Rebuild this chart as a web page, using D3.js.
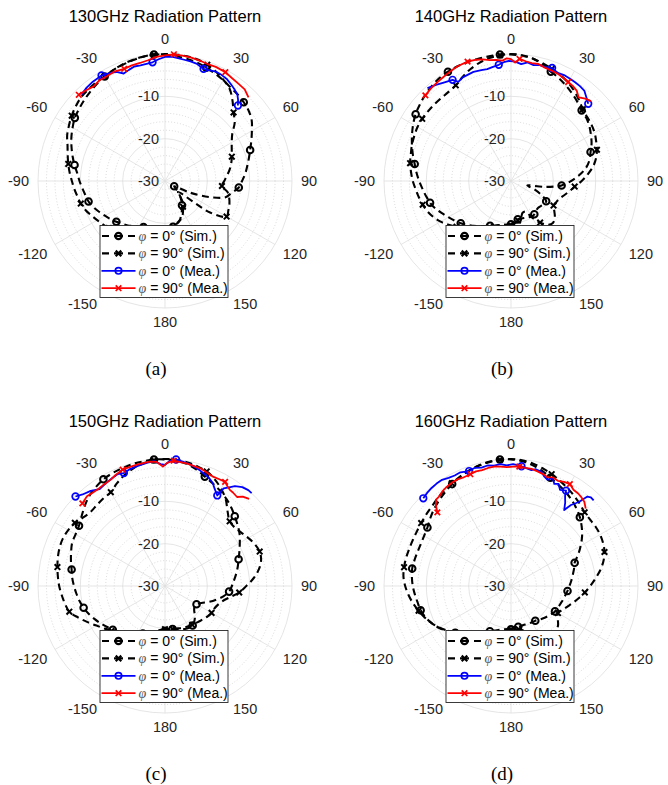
<!DOCTYPE html>
<html><head><meta charset="utf-8">
<script src="https://cdn.jsdelivr.net/npm/d3@7"></script>
<style>body{margin:0;background:#fff}</style>
</head><body>
<svg id="chart" width="668" height="785"></svg>
<script>
// ---------- shared categories / ticks ----------
const simAngles = d3.range(-180, 181, 5);            // sampling grid of the simulated patterns (deg)
const simMarkerAngles = [-180,-155,-130,-105,-80,-55,-30,-5,20,45,70,95,120,145,170];
const rMajorTicks = [-20, -10, 0];
const rTickLabels = [-30, -20, -10];
const thetaTicks = [0, 30, 60, 90, 120, 150, 180, -150, -120, -90, -60, -30];
const legendLabels = ["0° (Sim.)", "90° (Sim.)", "0° (Mea.)", "90° (Mea.)"];
const titles = ["130GHz Radiation Pattern", "140GHz Radiation Pattern", "150GHz Radiation Pattern", "160GHz Radiation Pattern"];
const captions = ["(a)", "(b)", "(c)", "(d)"];

// ---------- 130 GHz ----------
const sim0_130 = [-18,-18.3,-18.5,-18.5,-18.3,-18,-17.5,-17,-16.3,-15.7,
 -15,-14.3,-13.6,-12.8,-12,-11.3,-10.9,-10.4,-9.8,-9.2,
 -8.3,-7.4,-6.5,-5.6,-4.8,-4,-3.5,-3,-2.5,-2,
 -1.5,-1.1,-0.8,-0.5,-0.2,0,-0.2,-0.4,-0.7,-1,
 -1.5,-2,-2.5,-3,-3.3,-3.7,-4.2,-5,-6.3,-7.5,
 -8.6,-9.5,-10.3,-11,-11.8,-12.5,-14,-15.2,-19,-23.5,
 -27.5,-27,-26,-25,-24,-23,-22,-21,-20,-19.5,
 -19,-18.5,-18];
const sim90_130 = [-18.5,-18.5,-18.5,-18.5,-18,-17.5,-16.5,-15.5,-14.5,-13.5,
 -12.7,-12.1,-11.5,-10.8,-10,-9.4,-9,-8.5,-8,-7.4,
 -6.8,-6.2,-5.5,-4.5,-3.8,-3.1,-2.5,-2,-1.8,-1.6,
 -1.5,-1.1,-0.7,-0.4,-0.2,-0.1,0,0,-0.1,-0.3,
 -0.8,-1.5,-2.4,-3.4,-5.2,-7.1,-8.5,-10.6,-11.8,-12.6,
 -13.2,-13.8,-14.5,-15.3,-16,-16.5,-15,-14.3,-13.8,-13.5,
 -13.2,-17,-26,-25,-23.5,-22.6,-21.5,-20.5,-20,-19.5,
 -19,-18.7,-18.5];
const mea0Ang_130 = [-44,-40,-36,-31,-27,-24,-21,-18,-15,-12,-9,-6,-3,0,3,6,9,12,15,19,22,25,28,31,34,37,40,42,44];
const mea0Val_130 = [-1.6,-1.2,-1.0,-0.9,-1.4,-1.8,-2.8,-2.4,-2.0,-2.1,-2.0,-1.8,-1.2,-0.7,-0.6,-0.8,-1.0,-1.1,-1.3,-2.0,-1.8,-1.5,-1.6,-1.8,-2.3,-2.8,-3.4,-4.2,-5.2];
const mea0Mk_130 = [-31,-6,19,44];
const mea90Ang_130 = [-45,-41,-37,-33,-29,-25,-20,-16,-12,-8,-4,0,4,8,12,16,20,24,29,33,37,41,45];
const mea90Val_130 = [-1.2,-1.6,-2.0,-1.6,-1.7,-1.5,-1.8,-1.6,-1.5,-1.2,-0.6,-0.3,0,-0.1,-0.2,-0.4,-0.6,-0.5,-0.6,-1.0,-1.2,-1.3,-2.1];
const mea90Mk_130 = [-45,-20,4,29];

// ---------- 140 GHz ----------
const sim0_140 = [-19.8,-19.7,-19.5,-19.2,-18.8,-18.3,-17.7,-17,-16.2,-15.3,
 -14.5,-13.7,-12.9,-12,-11,-10.2,-9.6,-9,-8.3,-7.6,
 -6.9,-6,-5.1,-4.2,-3.3,-2.5,-1.9,-1.3,-0.8,-0.4,
 -0.2,-0.1,-0.1,-0.1,-0.1,0,-0.1,-0.3,-0.6,-1.5,
 -2.5,-3.2,-4,-4.8,-5.6,-6.4,-6.8,-7.4,-8.2,-9,
 -10,-10.8,-12,-13.8,-15.8,-18,-22,-26,-24,-22,
 -20.4,-20.5,-20.8,-21,-20.8,-20.4,-20.3,-20.5,-20.7,-20.8,
 -20.8,-20.5,-19.8];
const sim90_140 = [-19.5,-19.5,-19.5,-19.2,-18.7,-18,-17.3,-16.5,-15.5,-14.5,
 -13.2,-12,-10.8,-9.8,-9,-8.4,-7.9,-7.4,-6.8,-6.3,
 -5.8,-5.5,-5.1,-4.8,-4.5,-4.4,-4.4,-4.4,-4.4,-4.3,
 -3.9,-2.9,-1.9,-1.1,-0.5,-0.2,0,-0.2,-0.6,-1.2,
 -1.8,-2.4,-3.1,-4,-5,-6,-6.5,-6.8,-7.2,-7.8,
 -8.4,-9.2,-10.3,-11.8,-13.3,-14.9,-16,-17,-17.8,-18.2,
 -18.4,-17.5,-16.5,-16,-16.5,-18,-20,-22,-22,-21,
 -20.5,-20,-19.5];
const mea0Ang_140 = [-42,-38,-34,-30,-28,-25,-22,-19,-15,-12,-9,-6,-3,-1,2,5,8,11,14,17,20,23,27,30,33,36,39,42,45];
const mea0Val_140 = [-0.5,-1.2,-1.9,-2.4,-3.5,-3.0,-2.9,-2.75,-2.9,-3.0,-2.7,-2.4,-1.8,-1.6,-1.8,-2.3,-1.7,-2.1,-1.8,-1.9,-1.6,-2.2,-2.0,-2.1,-2.2,-2.3,-2.5,-3.4,-4.2];
const mea0Mk_140 = [-30,-6,20,45];
const mea90Ang_140 = [-45,-41,-37,-33,-29,-25,-20,-16,-13,-10,-7,-4,-2,0,2,4,7,10,13,16,20,24,27,30,33,36,39,42,45];
const mea90Val_140 = [-1.4,-1.1,-0.9,-0.7,-0.4,-0.1,0,-0.2,-0.5,-1.0,-1.2,-1.5,-1.0,-1.2,-2.0,-1.1,-1.5,-1.7,-1.6,-2.0,-2.2,-2.4,-2.7,-3.0,-3.2,-3.6,-4.6,-3.8,-3.3];
const mea90Mk_140 = [-45,-20,4,30];

// ---------- 150 GHz ----------
const sim0_150 = [-19.4,-19.3,-19,-18.7,-18.2,-17.6,-17,-16.3,-15.5,-14.7,
 -13.9,-13.2,-12.4,-11.6,-10.8,-10.1,-9.5,-9,-8.5,-8,
 -7.6,-7,-6.4,-5.8,-5.6,-5.2,-4.3,-3.2,-2.2,-1.5,
 -0.9,-0.6,-0.4,-0.2,-0.1,0,-0.1,-0.3,-0.7,-1.5,
 -2.5,-3.3,-4,-4.8,-5.7,-6.7,-7.6,-8.5,-9.6,-10.6,
 -11.5,-12.2,-12.9,-13.6,-14.2,-14.8,-16,-17.5,-19,-20.5,
 -21.4,-21.5,-21,-20,-19.2,-18.6,-18.6,-18.8,-19.2,-19.5,
 -19.7,-19.6,-19.4];
const sim90_150 = [-19.8,-19.6,-19.2,-18.6,-17.8,-16.8,-15.8,-15,-14.3,-13.8,
 -13.5,-12.5,-11.3,-9.8,-8.2,-6.6,-6,-5.5,-5,-4.6,
 -4.2,-3.8,-3.5,-3.4,-3.6,-4,-4.8,-5.2,-5,-4.7,
 -4.4,-3.2,-2.1,-1.2,-0.6,-0.2,0,-0.1,-0.3,-0.7,
 -1.2,-2.2,-3.5,-5,-7,-8.4,-8.5,-8,-7.3,-6.6,
 -6.2,-6.5,-7.5,-9,-10.8,-12.4,-14.5,-16,-16.8,-17.2,
 -17.3,-17.6,-18,-18.3,-18.6,-18.8,-19,-19.2,-19.4,-19.6,
 -19.7,-19.8,-19.8];
const mea0Ang_150 = [-45,-42,-38,-34,-30,-26,-23,-20,-17,-14,-11,-8,-5,-2,0,2,5,8,11,14,17,19,22,25,27,30,31,33,35,38,41,43];
const mea0Val_150 = [-0.1,-0.9,-1.5,-2.4,-2.0,-1.6,-1.3,-1.6,-1.2,-1.0,-0.8,-0.6,-0.4,-1.2,-1.4,-0.5,0,-0.3,-0.6,-1.0,-1.5,-1.9,-2.4,-3.2,-4.2,-5.3,-3.1,-2.2,-1.2,-0.35,0,0];
const mea0Mk_150 = [-45,-20,5,30];
const mea90Ang_150 = [-45,-41,-38,-35,-31,-27,-24,-20,-17,-13,-10,-7,-4,-1,1,4,7,10,13,17,20,24,27,30,32,34,36,39,41,44];
const mea90Val_150 = [-2.4,-1.9,-2.1,-2.2,-2.0,-1.8,-1.3,-0.75,-0.7,-0.6,-0.5,-0.4,-0.6,-1.8,-0.9,-0.33,-0.5,-0.6,-0.8,-1.0,-1.4,-1.8,-1.7,-1.6,-2.2,-2.6,-2.7,-2.95,-2.0,-1.4];
const mea90Mk_150 = [-45,-20,4,30];

// ---------- 160 GHz ----------
const sim0_160 = [-19.8,-19.8,-19.6,-19.3,-18.8,-18.2,-17.3,-16.3,-15.2,-14,
 -12.8,-11.5,-10.3,-9.3,-8.5,-7.9,-7.6,-7.2,-6.8,-6.5,
 -6.3,-6.4,-6.5,-6.5,-6.3,-5.9,-5.1,-4.3,-3.6,-2.9,
 -2.2,-1.6,-1,-0.5,-0.2,0,-0.1,-0.4,-1,-1.8,
 -2.8,-3.6,-4.3,-5.1,-6,-7,-8.2,-9.5,-11,-12.5,
 -14,-14.6,-15.2,-15.7,-16.2,-16.6,-17,-17.3,-17.6,-17.8,
 -18,-18.4,-18.8,-19.2,-19.6,-20,-20.1,-20.2,-20.3,-20.3,
 -20.2,-20,-19.8];
const sim90_160 = [-19.8,-19.5,-19,-18.3,-17.5,-16.5,-15.5,-14.5,-13.8,-13.3,
 -12.8,-11.6,-10.4,-9.3,-8.3,-7.4,-6.5,-5.7,-5,-4.5,
 -4.35,-4.35,-4.4,-4.4,-4.3,-4.1,-3.8,-3.5,-3,-2.5,
 -2,-1.5,-1,-0.6,-0.3,-0.1,0,-0.2,-0.6,-1.2,
 -1.9,-2.6,-3.3,-4,-4.7,-5.4,-5.6,-5.6,-5.7,-6,
 -6.5,-7.4,-8.6,-10,-11.3,-12.5,-13.7,-14.8,-15.8,-16.6,
 -17.2,-16.5,-15.5,-15,-15,-15.5,-16.5,-17.5,-18.5,-19.2,
 -19.6,-19.8,-19.8];
const mea0Ang_160 = [-45,-42,-39,-36,-33,-30,-27,-24,-20,-17,-14,-11,-8,-5,-2,1,3,5,8,10,12,15,17,19,21,23,25,27,30,31,33,35,36.5,38,39,40.5,42,44];
const mea0Val_160 = [-0.7,-0.4,-0.2,-0.1,-0.1,-0.5,-0.7,-0.6,-1.1,-0.8,-1.2,-1.0,-1.3,-1.1,-1.5,-1.2,-1.4,-1.6,-2.0,-2.2,-1.8,-2.1,-3.0,-3.5,-2.6,-3.8,-3.4,-4.5,-4.0,-5.2,-6.5,-8.1,-6.2,-5.2,-4.4,-2.2,-1.8,-1.9];
const mea0Mk_160 = [-45,-20,5,30];
const mea90Ang_160 = [-45,-43,-41,-39,-36,-33,-30,-27,-24,-20,-17,-14,-11,-8,-5,-2,1,4,7,10,13,16,18.5,21,24,27,30,33,36,38,41,44];
const mea90Val_160 = [-5.4,-4.0,-3.0,-2.9,-2.4,-2.1,-1.9,-1.8,-2.0,-1.9,-1.7,-1.8,-1.6,-1.5,-1.7,-1.9,-1.8,-1.7,-1.9,-1.9,-2.2,-2.5,-2.9,-2.5,-2.8,-2.4,-2.2,-2.9,-3.0,-3.2,-3.6,-4.6];
const mea90Mk_160 = [-45,-20,4,30];

// ---------- drawing ----------
const FONT = "'Liberation Sans', Arial, Helvetica, sans-serif";
const SERIF = "'Liberation Serif', 'Times New Roman', Times, serif";
const TXT = "#262626";
const R = 127;
const rScale = d3.scaleLinear().domain([-30, 0]).range([0, R]).clamp(true);
const aScale = d3.scaleLinear().domain([-180, 180]).range([-Math.PI, Math.PI]);
const pt = (t, v) => d3.pointRadial(aScale(t), rScale(v));

const panels = [
  {cx:165, cy:181, capX:156, capY:368, sim0:sim0_130, sim90:sim90_130, m0a:mea0Ang_130, m0v:mea0Val_130, m0k:mea0Mk_130, m9a:mea90Ang_130, m9v:mea90Val_130, m9k:mea90Mk_130},
  {cx:511, cy:181, capX:502, capY:368, sim0:sim0_140, sim90:sim90_140, m0a:mea0Ang_140, m0v:mea0Val_140, m0k:mea0Mk_140, m9a:mea90Ang_140, m9v:mea90Val_140, m9k:mea90Mk_140},
  {cx:165, cy:586, capX:156, capY:773, sim0:sim0_150, sim90:sim90_150, m0a:mea0Ang_150, m0v:mea0Val_150, m0k:mea0Mk_150, m9a:mea90Ang_150, m9v:mea90Val_150, m9k:mea90Mk_150},
  {cx:511, cy:586, capX:502, capY:773, sim0:sim0_160, sim90:sim90_160, m0a:mea0Ang_160, m0v:mea0Val_160, m0k:mea0Mk_160, m9a:mea90Ang_160, m9v:mea90Val_160, m9k:mea90Mk_160}
];

const svg = d3.select("#chart");
svg.append("rect").attr("width", 668).attr("height", 785).attr("fill", "#fff");

const simLine = d3.lineRadial().angle(d => aScale(d[0])).radius(d => rScale(d[1])).curve(d3.curveCatmullRom.alpha(0.5));
const meaLine = d3.lineRadial().angle(d => aScale(d[0])).radius(d => rScale(d[1]));

function drawMarker(g, kind, x, y, color, sw, rad) {
  if (kind === "o") {
    g.append("circle").attr("cx", x).attr("cy", y).attr("r", rad || 3.1)
      .attr("fill", "none").attr("stroke", color).attr("stroke-width", sw);
  } else {
    const s = 2.8;
    g.append("path").attr("d", `M${x-s},${y-s}L${x+s},${y+s}M${x-s},${y+s}L${x+s},${y-s}`)
      .attr("fill", "none").attr("stroke", color).attr("stroke-width", sw);
  }
}

panels.forEach((p, i) => {
  const g = svg.append("g").attr("transform", `translate(${p.cx},${p.cy})`);

  // title
  svg.append("text").attr("x", p.cx).attr("y", p.cy - 159.5).attr("text-anchor", "middle")
    .attr("font-family", FONT).attr("font-size", 16.5).attr("fill", "#000").text(titles[i]);

  // minor dotted rings every 2 dB
  const minor = d3.range(-28, 0, 2).filter(v => v % 10 !== 0);
  g.selectAll(".minor").data(minor).join("circle").attr("r", d => rScale(d))
    .attr("fill", "none").attr("stroke", "#c8c8c8").attr("stroke-width", 0.7).attr("stroke-dasharray", "1,2");
  // spokes
  g.selectAll(".spoke").data(d3.range(0, 360, 30)).join("line")
    .attr("x1", 0).attr("y1", 0)
    .attr("x2", d => d3.pointRadial(d * Math.PI / 180, R)[0])
    .attr("y2", d => d3.pointRadial(d * Math.PI / 180, R)[1])
    .attr("stroke", "#dedede").attr("stroke-width", 0.8);
  // major rings
  g.selectAll(".major").data(rMajorTicks).join("circle").attr("r", d => rScale(d))
    .attr("fill", "none").attr("stroke", "#dedede").attr("stroke-width", 0.8);

  // radial tick labels
  g.selectAll(".rlab").data(rTickLabels).join("text")
    .attr("x", -6).attr("y", d => -rScale(d)).attr("dy", "0.35em").attr("text-anchor", "end")
    .attr("font-family", FONT).attr("font-size", 14.5).attr("fill", TXT).text(d => d);

  // angular tick labels: anchored at R+9, aligned away from the circle
  thetaTicks.forEach(t => {
    const th = t * Math.PI / 180;
    const s = Math.sin(th), c = Math.cos(th);
    const D = R + 9;
    const anchor = s > 0.01 ? "start" : (s < -0.01 ? "end" : "middle");
    const dy = c > 0.01 ? "-0.05em" : (c < -0.01 ? "0.72em" : "0.35em");
    g.append("text").attr("font-family", FONT).attr("font-size", 14.5).attr("fill", TXT)
      .attr("text-anchor", anchor).attr("dy", dy)
      .attr("x", D * s).attr("y", -D * c).text(t);
  });

  // simulated curves
  const s0 = simAngles.map((t, k) => [t, p.sim0[k]]);
  const s9 = simAngles.map((t, k) => [t, p.sim90[k]]);
  [[s0, "o"], [s9, "x"]].forEach(([data, mk]) => {
    g.append("path").attr("d", simLine(data)).attr("fill", "none").attr("stroke", "#000")
      .attr("stroke-width", 2.1).attr("stroke-dasharray", "7,4.5");
    data.filter(d => simMarkerAngles.includes(d[0])).forEach(d => {
      const [x, y] = pt(d[0], d[1]);
      drawMarker(g, mk, x, y, "#000", 2, 3.3);
    });
  });

  // measured curves
  [[p.m0a, p.m0v, p.m0k, "#0000ff", "o"], [p.m9a, p.m9v, p.m9k, "#ff0000", "x"]].forEach(([ang, val, mks, col, mk]) => {
    const data = ang.map((t, k) => [t, val[k]]);
    g.append("path").attr("d", meaLine(data)).attr("fill", "none").attr("stroke", col)
      .attr("stroke-width", 1.8).attr("stroke-linejoin", "round");
    data.filter(d => mks.includes(d[0])).forEach(d => {
      const [x, y] = pt(d[0], d[1]);
      drawMarker(g, mk, x, y, col, 1.7, 3.3);
    });
  });

  // legend
  const lg = g.append("g").attr("transform", "translate(-65,44.5)");
  lg.append("rect").attr("width", 128).attr("height", 72).attr("fill", "#fff")
    .attr("stroke", "#262626").attr("stroke-width", 0.9);
  const styles = [["#000", "o", true], ["#000", "x", true], ["#0000ff", "o", false], ["#ff0000", "x", false]];
  styles.forEach(([col, mk, dashed], k) => {
    const y = 10.5 + 17.4 * k;
    if (dashed) {
      lg.append("line").attr("x1", 2).attr("x2", 35).attr("y1", y).attr("y2", y).attr("stroke", col)
        .attr("stroke-width", 2.1).attr("stroke-dasharray", "7,5,9,5,7");
      drawMarker(lg, mk, 18.5, y, col, 2.2, 3.2);
    } else {
      lg.append("line").attr("x1", 1.5).attr("x2", 35.5).attr("y1", y).attr("y2", y).attr("stroke", col).attr("stroke-width", 1.8);
      drawMarker(lg, mk, 18.5, y, col, 1.7, 3.2);
    }
    const tx = lg.append("text").attr("x", 38.5).attr("y", y).attr("dy", "0.36em")
      .attr("font-family", FONT).attr("font-size", 14).attr("fill", "#000");
    tx.append("tspan").attr("font-family", SERIF).attr("font-style", "italic").attr("fill", "#555").text("φ");
    tx.append("tspan").text(" = " + legendLabels[k]);
  });

  // caption
  svg.append("text").attr("x", p.capX).attr("y", p.capY).attr("dy", "0.35em").attr("text-anchor", "middle")
    .attr("font-family", SERIF).attr("font-size", 19).attr("fill", "#000").text(captions[i]);
});
</script>
</body></html>
